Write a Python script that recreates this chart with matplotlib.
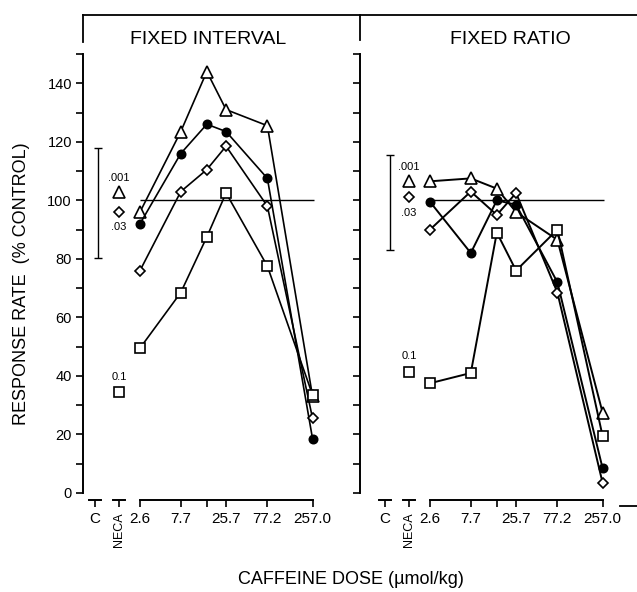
import numpy as np
import matplotlib
matplotlib.use("Agg")
import matplotlib.pyplot as plt
from matplotlib.lines import Line2D
from matplotlib.transforms import blended_transform_factory, ScaledTranslation

plt.rcParams['font.family'] = ['Liberation Sans', 'DejaVu Sans']

# caffeine doses (umol/kg)
doses = [2.6, 7.7, 15.4, 25.7, 77.2, 257.0]
dose_labels = ['2.6', '7.7', '', '25.7', '77.2', '257.0']
x_ctrl = 0.785
x_neca = 1.48
neca_doses = ['.001', '.03', '0.1']

# fixed interval
fi_tri = [96, 123.5, 144, 131, 125.5, 33]
fi_dot = [92, 116, 126, 123.5, 107.5, 18.5]
fi_dia = [76, 103, 110.5, 118.5, 98, 25.5]
fi_sq = [49.5, 68.5, 87.5, 102.5, 77.5, 33.5]
fi_neca = [103, 96, 34.5]
fi_ctrl = (99.1, 18.8)

# fixed ratio
fr_tri = [106.5, 107.5, 104, 96, 86.5, 27.5]
fr_dot = [99.5, 82, 100, 98.5, 72, 8.5]
fr_dia = [90, 103, 95, 102.5, 68.5, 3.5]
fr_sq = [37.5, 41, 89, 76, 90, 19.5]
fr_neca = [106.5, 101, 41.5]
fr_ctrl = (99.3, 16.2)

W, H = 637, 592
PX_DEC = 86.5  # pixels per decade of dose

fig = plt.figure(figsize=(W / 100, H / 100), dpi=100)


def xlim_for(left_px, right_px, anchor_px):
    return (2.6 * 10 ** ((left_px - anchor_px) / PX_DEC),
            2.6 * 10 ** ((right_px - anchor_px) / PX_DEC))


styles = [
    dict(marker='^', ms=8, mfc='white'),
    dict(marker='o', ms=6, mfc='black'),
    dict(marker='D', ms=5.5, mfc='white'),
    dict(marker='s', ms=7, mfc='white'),
]


def panel(left_px, right_px, anchor_px, series, neca, ctrl, ctrl_x, label_y, lw):
    y0, y1 = 493, 54
    ax = fig.add_axes([left_px / W, 1 - y0 / H, (right_px - left_px) / W, (y0 - y1) / H])
    ax.set_xscale('log')
    ax.set_xlim(*xlim_for(left_px, right_px, anchor_px))
    ax.set_ylim(0, 150)
    for s in ['top', 'right']:
        ax.spines[s].set_visible(False)
    ax.spines['bottom'].set_bounds(doses[0], doses[-1])
    ax.spines['bottom'].set_position(('outward', 5))
    ax.spines['left'].set_linewidth(1.4)
    ax.spines['bottom'].set_linewidth(1.4)
    ax.patch.set_visible(False)

    ax.set_yticks(np.arange(0, 141, 20))
    ax.set_yticks(np.arange(10, 151, 20), minor=True)
    ax.tick_params(axis='y', which='both', direction='out', length=5, width=1.2,
                   labelsize=10.5, pad=3, labelleft=label_y)
    ax.set_xticks([x_ctrl, x_neca] + doses)
    ax.set_xticks([], minor=True)
    ax.set_xticklabels(['C', 'NECA'] + dose_labels)
    ax.tick_params(axis='x', direction='out', length=5, width=1.2, labelsize=11, pad=4)
    ax.get_xticklabels()[1].set_rotation(90)
    ax.get_xticklabels()[1].set_fontsize(9)

    # short "T" bars under C and NECA
    tr = blended_transform_factory(ax.transData, ax.transAxes) + \
        ScaledTranslation(0, -5 / 72, fig.dpi_scale_trans)
    f = 10 ** (6 / PX_DEC)
    for xc in [x_ctrl, x_neca]:
        ax.add_line(Line2D([xc / f, xc * f], [0, 0], transform=tr, color='black',
                           lw=1.4, clip_on=False))

    ax.hlines(100, doses[0], 270, color='black', lw=1.0)

    for vals, st in zip(series, styles):
        ax.plot(doses, vals, color='black', lw=lw, mec='black', mew=1.2,
                clip_on=False, **st)

    for v, st in zip(neca, [styles[0], styles[2], styles[3]]):
        ax.plot([x_neca], [v], ls='none', color='black', mec='black', mew=1.2, **st)

    ax.annotate(neca_doses[0], (x_neca, neca[0]), xytext=(0, 10), textcoords='offset points',
                ha='center', va='center', fontsize=8)
    ax.annotate(neca_doses[1], (x_neca, neca[1]), xytext=(0, -11), textcoords='offset points',
                ha='center', va='center', fontsize=8)
    ax.annotate(neca_doses[2], (x_neca, neca[2]), xytext=(0, 11), textcoords='offset points',
                ha='center', va='center', fontsize=8)

    ax.errorbar([ctrl_x], [ctrl[0]], yerr=[ctrl[1]], color='black', lw=1.0,
                capsize=3, capthick=1.0)
    return ax


panel(83, 359, 140, [fi_tri, fi_dot, fi_dia, fi_sq], fi_neca, fi_ctrl, 0.85, True, 1.2)
panel(360, 637, 430, [fr_tri, fr_dot, fr_dia, fr_sq], fr_neca, fr_ctrl, 0.9, False, 1.4)

# header box
def fline(xs, ys, lw=1.3):
    fig.add_artist(Line2D([x / W for x in xs], [1 - y / H for y in ys],
                          transform=fig.transFigure, color='black', lw=lw))

fline([83, 637], [15, 15])
fline([83, 83], [15, 42])
fline([360, 360], [15, 40])
fline([620, 637], [506, 506])

fig.text(208 / W, 1 - 40 / H, 'FIXED INTERVAL', ha='center', va='center', fontsize=14)
fig.text(510 / W, 1 - 40 / H, 'FIXED RATIO', ha='center', va='center', fontsize=14)
fig.text(22 / W, 1 - 284 / H, 'RESPONSE RATE  (% CONTROL)', rotation=90,
         ha='center', va='center', fontsize=13)
fig.text(351 / W, 1 - 580 / H, 'CAFFEINE DOSE (\u00b5mol/kg)', ha='center', va='center',
         fontsize=13)

fig.savefig('out.png', dpi=100)
